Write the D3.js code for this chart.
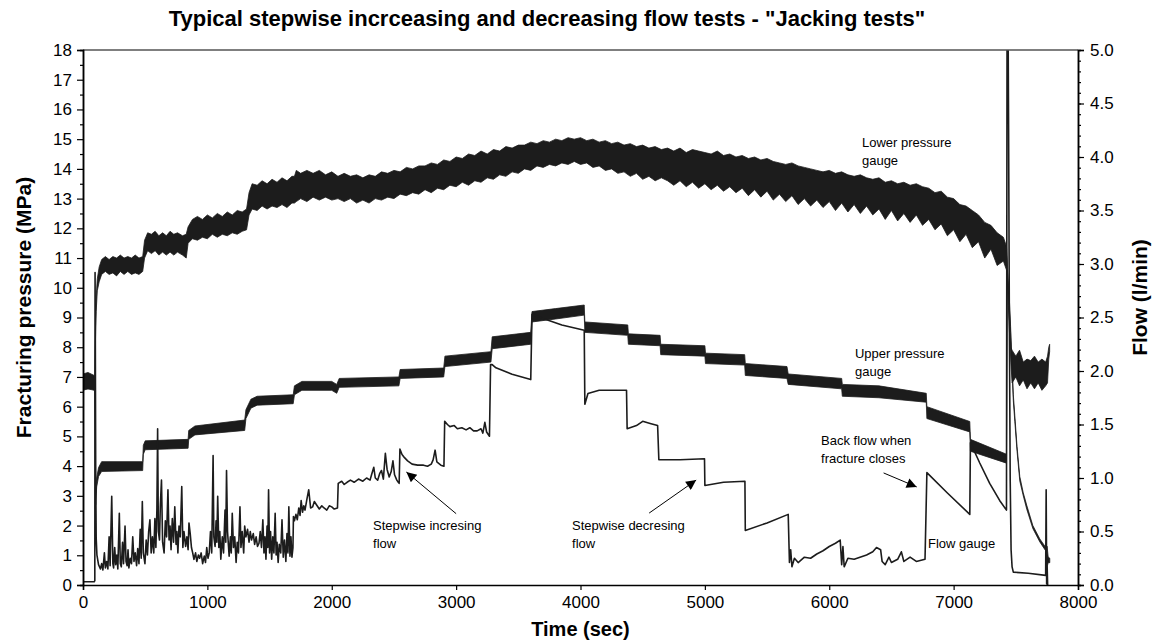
<!DOCTYPE html>
<html>
<head>
<meta charset="utf-8">
<script src="https://cdn.jsdelivr.net/npm/d3@7"></script>
<style>
  body { margin: 0; background: #fff; }
  svg { display: block; }
  text { font-family: Arial, "Liberation Sans", sans-serif; fill: #000; }
</style>
</head>
<body>
<svg id="chart" width="1154" height="641"></svg>
<script>
// ---- data -------------------------------------------------------------
// Lower pressure gauge, MPa: [time s, band min, band max]
const lowerGauge = [
  [0,6.55,7.1],[40,6.6,7.15],[90,6.55,7.05],[96,6.7,7.0],[100,8.2,8.6],[106,9.2,9.7],
  [115,9.9,10.3],[130,10.2,10.7],[150,10.45,10.95],[180,10.55,11.05],[210,10.45,10.95],
  [240,10.5,11.05],[270,10.4,11.0],[300,10.55,11.1],[330,10.45,11.0],[360,10.55,11.05],
  [390,10.45,11.0],[420,10.5,11.1],[450,10.45,11.0],[480,10.55,11.05],[495,11.0,11.6],
  [520,11.25,11.85],[550,11.15,11.8],[580,11.25,11.9],[610,11.1,11.75],[640,11.2,11.85],
  [670,11.1,11.75],[700,11.2,11.9],[730,11.1,11.8],[760,11.2,11.85],[800,11.1,11.75],
  [830,11.0,11.8],[845,11.5,12.05],[880,11.65,12.3],[920,11.6,12.4],[960,11.7,12.3],
  [1000,11.65,12.45],[1040,11.8,12.35],[1080,11.7,12.5],[1120,11.8,12.4],[1160,11.75,12.55],
  [1200,11.85,12.45],[1240,11.8,12.6],[1280,11.9,12.55],[1315,11.95,12.65],[1335,12.45,13.2],
  [1360,12.65,13.5],[1400,12.6,13.45],[1440,12.75,13.6],[1480,12.65,13.5],[1520,12.75,13.65],
  [1560,12.7,13.55],[1600,12.8,13.7],[1640,12.7,13.6],[1680,12.85,13.75],[1700,12.85,13.75],
  [1715,12.9,13.95],[1750,13.0,13.85],[1800,12.9,13.95],[1850,13.05,13.85],[1900,12.95,13.95],
  [1950,13.05,13.8],[2000,12.95,13.9],[2050,13.0,13.75],[2100,12.9,13.85],[2150,13.0,13.75],
  [2200,12.85,13.8],[2250,12.95,13.7],[2300,12.85,13.8],[2350,13.0,13.75],[2400,12.95,13.9],
  [2450,13.05,13.85],[2500,13.0,13.95],[2550,13.15,13.9],[2600,13.1,14.05],[2650,13.2,14.0],
  [2700,13.15,14.1],[2750,13.3,14.1],[2800,13.2,14.2],[2850,13.35,14.15],[2900,13.3,14.3],
  [2950,13.45,14.25],[3000,13.4,14.4],[3050,13.55,14.35],[3100,13.45,14.5],[3150,13.6,14.45],
  [3200,13.55,14.6],[3250,13.7,14.5],[3300,13.65,14.65],[3350,13.8,14.6],[3400,13.75,14.75],
  [3450,13.9,14.7],[3500,13.85,14.8],[3550,14.0,14.8],[3600,13.95,14.9],[3650,14.1,14.85],
  [3700,14.05,14.95],[3750,14.15,14.9],[3800,14.1,15.0],[3850,14.2,14.95],[3900,14.15,15.05],
  [3950,14.25,15.0],[4000,14.15,15.05],[4050,14.2,14.95],[4100,14.05,15.0],[4150,14.1,14.9],
  [4200,13.95,14.95],[4250,14.0,14.85],[4300,13.85,14.9],[4350,13.9,14.8],[4400,13.75,14.85],
  [4450,13.85,14.75],[4500,13.65,14.8],[4550,13.75,14.7],[4600,13.6,14.75],[4650,13.7,14.65],
  [4700,13.6,14.7],[4750,13.45,14.6],[4800,13.6,14.7],[4850,13.4,14.55],[4900,13.55,14.65],
  [4950,13.35,14.6],[5000,13.5,14.55],[5050,13.3,14.5],[5100,13.45,14.6],[5150,13.25,14.45],
  [5200,13.4,14.5],[5250,13.2,14.4],[5300,13.35,14.45],[5350,13.1,14.35],[5400,13.3,14.4],
  [5450,13.05,14.3],[5500,13.25,14.35],[5550,12.95,14.25],[5600,13.15,14.2],[5650,12.9,14.15],
  [5700,13.1,14.2],[5750,12.8,14.1],[5800,13.0,14.05],[5850,12.75,14.0],[5900,12.95,13.95],
  [5950,12.7,13.9],[6000,12.9,13.95],[6050,12.6,13.85],[6100,12.85,13.9],[6150,12.55,13.8],
  [6200,12.8,13.75],[6250,12.5,13.8],[6300,12.75,13.7],[6350,12.45,13.65],[6400,12.65,13.7],
  [6450,12.3,13.55],[6500,12.6,13.6],[6550,12.25,13.5],[6600,12.5,13.55],[6650,12.2,13.45],
  [6700,12.45,13.5],[6750,12.1,13.4],[6800,12.3,13.35],[6850,11.95,13.2],[6900,12.15,13.25],
  [6950,11.75,13.05],[7000,11.95,13.0],[7050,11.55,12.8],[7100,11.8,12.75],[7150,11.35,12.6],
  [7200,11.55,12.45],[7250,11.0,12.2],[7300,11.3,12.1],[7350,10.75,11.85],[7400,10.9,11.7],
  [7425,10.6,11.4],[7432,10.2,10.9],[7440,9.4,9.9],[7450,8.4,8.8],[7460,7.5,8.0],
  [7470,6.8,7.9],[7500,7.0,7.7],[7530,6.7,7.9],[7560,6.9,7.5],[7590,6.6,7.6],[7620,6.8,7.55],
  [7650,6.6,7.7],[7680,6.8,7.5],[7710,6.55,7.6],[7740,6.7,7.5],[7755,6.8,7.7],[7765,7.6,8.0],
  [7772,7.85,8.1]
];

// Upper pressure gauge, MPa: [time s, band min, band max]
const upperGauge = [
  [0,6.6,7.0],[95,6.6,7.0],[98,5.0,5.4],[102,2.7,3.1],[110,3.3,3.6],[125,3.65,3.95],
  [150,3.82,4.15],[480,3.85,4.15],[485,4.4,4.7],[500,4.55,4.85],[845,4.6,4.9],[850,4.9,5.2],
  [900,5.05,5.35],[1300,5.2,5.55],[1310,5.6,5.9],[1350,5.95,6.25],[1400,6.05,6.35],
  [1690,6.1,6.4],[1700,6.4,6.7],[1760,6.55,6.85],[2000,6.55,6.85],[2040,6.45,6.75],
  [2060,6.65,6.95],[2540,6.7,7.0],[2550,6.95,7.25],[2900,7.0,7.3],[2910,7.35,7.7],
  [3280,7.5,7.85],[3290,7.95,8.35],[3600,8.1,8.5],[3610,8.85,9.2],[3800,8.95,9.3],
  [4030,9.08,9.42],[4035,8.5,8.85],[4380,8.4,8.75],[4385,8.1,8.45],[4640,8.05,8.4],
  [4645,7.75,8.1],[5000,7.7,8.05],[5005,7.45,7.8],[5320,7.4,7.75],[5325,7.05,7.45],
  [5660,6.95,7.35],[5670,6.75,7.1],[6100,6.6,6.95],[6105,6.35,6.75],[6400,6.3,6.7],
  [6780,6.15,6.45],[6785,5.6,6.0],[7130,5.15,5.5],[7135,4.5,4.9],[7425,4.1,4.4],
  [7432,10.3,10.6],[7445,9.6,9.9],[7458,8.5,8.7],[7468,7.4,7.6],[7480,6.2,6.4],
  [7492,5.5,5.7],[7510,4.5,4.65],[7532,3.5,3.65],[7560,3.0,3.1],[7588,2.55,2.68],
  [7637,1.9,2.0],[7693,1.45,1.55],[7745,1.12,1.24],[7752,0.6,1.3],[7760,0.75,0.95],
  [7773,0.75,0.9]
];

// Flow gauge, l/min: [time s, flow]
const flowGauge = [
  [0,0.03],[90,0.03],[95,0.04],[97,2.92],[99,2.36],[102,1.11],[106,0.44],[112,0.28],
  [125,0.19],[140,0.15],[150,0.2],[160,0.14],[172,0.3],[180,0.16],[190,0.22],[200,0.15],
  [210,0.45],[218,0.18],[231,0.83],[240,0.2],[246,0.16],[255,0.35],[263,0.19],[272,0.28],
  [280,0.15],[292,0.67],[300,0.2],[308,0.17],[318,0.4],[326,0.2],[338,0.55],[346,0.22],
  [355,0.18],[362,0.33],[369,0.16],[380,0.25],[390,0.2],[400,0.45],[410,0.22],[420,0.3],
  [431,0.18],[440,0.34],[450,0.2],[460,0.52],[468,0.25],[477,0.78],[485,0.3],[498,0.2],
  [508,0.42],[518,0.28],[528,0.5],[538,0.61],[548,0.3],[558,0.45],[569,0.3],[578,0.62],
  [586,0.35],[594,0.7],[600,1.46],[606,0.5],[615,0.42],[622,0.75],[631,0.98],[640,0.4],
  [652,0.3],[662,0.6],[672,0.45],[683,0.89],[692,0.42],[700,0.55],[708,0.33],[718,0.62],
  [728,0.4],[738,0.73],[748,0.38],[755,0.5],[763,0.3],[772,0.55],[782,0.45],[794,0.92],
  [803,0.35],[812,0.5],[825,0.36],[835,0.45],[845,0.33],[852,0.58],[862,0.48],[872,0.35],
  [882,0.3],[892,0.24],[905,0.3],[915,0.22],[928,0.28],[938,0.25],[950,0.3],[962,0.2],
  [975,0.27],[985,0.21],[995,0.35],[1005,0.25],[1015,0.3],[1025,0.5],[1035,0.3],[1046,1.21],
  [1052,0.45],[1062,0.36],[1070,0.6],[1076,0.4],[1083,0.83],[1092,0.35],[1100,0.5],
  [1108,0.24],[1120,0.45],[1130,0.3],[1142,0.7],[1148,0.4],[1154,1.07],[1162,0.5],
  [1175,0.27],[1185,0.45],[1192,0.3],[1200,0.67],[1210,0.35],[1220,0.45],[1231,0.21],
  [1240,0.4],[1250,0.3],[1262,0.73],[1270,0.35],[1280,0.5],[1292,0.3],[1300,0.55],
  [1310,0.45],[1323,0.52],[1335,0.4],[1345,0.5],[1355,0.42],[1369,0.48],[1380,0.38],
  [1392,0.45],[1403,0.36],[1415,0.39],[1425,0.5],[1435,0.35],[1446,0.61],[1455,0.3],
  [1463,0.45],[1471,0.24],[1480,0.55],[1486,0.35],[1492,0.89],[1500,0.3],[1508,0.5],
  [1517,0.24],[1526,0.45],[1535,0.3],[1545,0.67],[1553,0.28],[1560,0.4],[1569,0.21],
  [1578,0.38],[1590,0.3],[1600,0.61],[1610,0.26],[1620,0.42],[1631,0.22],[1640,0.48],
  [1648,0.3],[1655,0.73],[1664,0.27],[1672,0.45],[1680,0.26],[1688,0.35],[1692,0.64],
  [1700,0.6],[1712,0.66],[1723,0.61],[1735,0.72],[1745,0.65],[1754,0.79],[1765,0.68],
  [1775,0.74],[1785,0.7],[1800,0.8],[1815,0.89],[1830,0.72],[1846,0.73],[1860,0.78],
  [1877,0.75],[1900,0.71],[1920,0.74],[1938,0.72],[1960,0.7],[1980,0.74],[2000,0.73],
  [2020,0.71],[2046,0.72],[2052,0.95],[2080,0.97],[2100,0.94],[2123,0.96],[2150,0.98],
  [2180,0.96],[2215,0.99],[2250,0.97],[2280,1.0],[2308,0.98],[2320,1.03],[2338,1.1],
  [2350,1.0],[2369,0.98],[2385,1.04],[2400,1.07],[2415,0.99],[2431,1.23],[2445,1.08],
  [2462,1.01],[2478,1.06],[2492,1.16],[2505,1.03],[2523,0.98],[2535,0.96],[2542,0.95],
  [2548,1.27],[2565,1.22],[2585,1.19],[2610,1.16],[2646,1.13],[2690,1.12],[2738,1.12],
  [2770,1.11],[2800,1.13],[2815,1.17],[2831,1.26],[2845,1.15],[2877,1.12],[2902,1.11],
  [2908,1.53],[2930,1.5],[2950,1.48],[2985,1.49],[3010,1.46],[3046,1.47],[3080,1.45],
  [3110,1.47],[3140,1.44],[3169,1.44],[3200,1.46],[3215,1.42],[3231,1.52],[3245,1.43],
  [3268,1.39],[3277,2.06],[3290,2.06],[3320,2.03],[3450,1.97],[3600,1.92],[3610,2.53],
  [3700,2.49],[3850,2.43],[4030,2.38],[4035,1.69],[4060,1.79],[4150,1.82],[4370,1.82],
  [4375,1.46],[4450,1.49],[4500,1.53],[4560,1.51],[4620,1.49],[4630,1.17],[4800,1.17],
  [4997,1.18],[5000,0.93],[5150,0.96],[5322,0.97],[5325,0.51],[5500,0.58],[5670,0.66],
  [5680,0.21],[5690,0.33],[5700,0.17],[5720,0.25],[5750,0.21],[5800,0.26],[5850,0.25],
  [5900,0.29],[5950,0.32],[6000,0.36],[6050,0.39],[6088,0.42],[6100,0.19],[6110,0.36],
  [6120,0.17],[6150,0.25],[6200,0.24],[6300,0.28],[6350,0.31],[6380,0.35],[6413,0.33],
  [6425,0.22],[6450,0.19],[6480,0.26],[6500,0.21],[6550,0.24],[6580,0.31],[6600,0.22],
  [6650,0.26],[6700,0.22],[6770,0.24],[6785,1.05],[6950,0.86],[7130,0.66],[7135,1.33],
  [7210,1.14],[7290,0.95],[7370,0.79],[7425,0.7],[7430,5.6],[7438,5.2],[7442,4.25],
  [7448,2.5],[7455,0.97],[7462,0.33],[7470,0.17],[7480,0.12],[7600,0.11],[7740,0.09],
  [7744,0.89],[7748,0.01],[7752,0.17],[7756,0]
];

const timeTicks = [0,1000,2000,3000,4000,5000,6000,7000,8000];
const pressureTicks = d3.range(0, 19, 1);
const flowTicks = [0,0.5,1.0,1.5,2.0,2.5,3.0,3.5,4.0,4.5,5.0];

const chartTitle = 'Typical stepwise incrceasing and decreasing flow tests - "Jacking tests"';

// ---- layout -------------------------------------------------------------
const plot = { left: 83, right: 1078, top: 50, bottom: 585 };

const svg = d3.select('#chart');

const x = d3.scaleLinear().domain([0, 8000]).range([plot.left, plot.right]);
const yP = d3.scaleLinear().domain([0, 18]).range([plot.bottom, plot.top]);
const yF = d3.scaleLinear().domain([0, 5]).range([plot.bottom, plot.top]);

svg.append('clipPath').attr('id', 'plotClip')
  .append('rect')
  .attr('x', plot.left).attr('y', plot.top)
  .attr('width', plot.right - plot.left).attr('height', plot.bottom - plot.top);

// ---- series -------------------------------------------------------------
const ink = '#1c1c1c';
const series = svg.append('g').attr('clip-path', 'url(#plotClip)');

const band = d3.area()
  .x(d => x(d[0]))
  .y0(d => yP(d[1]))
  .y1(d => yP(d[2]));

series.append('path').datum(lowerGauge)
  .attr('d', band).attr('fill', ink).attr('stroke', ink).attr('stroke-width', 0.8);

series.append('path').datum(upperGauge)
  .attr('d', band).attr('fill', ink).attr('stroke', ink).attr('stroke-width', 0.8);

const flowLine = d3.line().x(d => x(d[0])).y(d => yF(d[1]));
series.append('path').datum(flowGauge)
  .attr('d', flowLine).attr('fill', 'none').attr('stroke', ink)
  .attr('stroke-width', 1.6).attr('stroke-linejoin', 'round');

// ---- frame and axes -----------------------------------------------------
svg.append('line')
  .attr('x1', plot.left).attr('x2', plot.right)
  .attr('y1', plot.top).attr('y2', plot.top)
  .attr('stroke', '#555').attr('stroke-width', 1.5);

const tickFont = 17;

function styleAxis(g) {
  g.selectAll('path.domain').attr('stroke', '#000').attr('stroke-width', 1.5);
  g.selectAll('.tick line').attr('stroke', '#000').attr('stroke-width', 1.2);
  g.selectAll('.tick text').attr('font-size', tickFont)
    .attr('font-family', 'Arial, "Liberation Sans", sans-serif').attr('fill', '#000');
}

// left axis: minor ticks at half units, major at units
svg.append('g').attr('transform', `translate(${plot.left},0)`)
  .call(d3.axisLeft(yP).tickValues(d3.range(0.5, 18, 1)).tickSize(3).tickFormat(''))
  .call(styleAxis);
svg.append('g').attr('transform', `translate(${plot.left},0)`)
  .call(d3.axisLeft(yP).tickValues(pressureTicks).tickSize(6).tickPadding(5).tickFormat(d3.format('d')))
  .call(styleAxis);

// right axis: minor ticks every 0.1
svg.append('g').attr('transform', `translate(${plot.right},0)`)
  .call(d3.axisRight(yF).tickValues(d3.range(0, 50).map(i => i / 10)).tickSize(3).tickFormat(''))
  .call(styleAxis);
svg.append('g').attr('transform', `translate(${plot.right},0)`)
  .call(d3.axisRight(yF).tickValues(flowTicks).tickSize(6).tickPadding(6).tickFormat(d3.format('.1f')))
  .call(styleAxis);

// bottom axis
svg.append('g').attr('transform', `translate(0,${plot.bottom})`)
  .call(d3.axisBottom(x).tickValues(timeTicks).tickSize(5).tickPadding(6).tickFormat(d3.format('d')))
  .call(styleAxis);

// ---- titles ---------------------------------------------------------------
svg.append('text')
  .attr('x', 547).attr('y', 26)
  .attr('text-anchor', 'middle')
  .attr('font-size', 22).attr('font-weight', 'bold')
  .text(chartTitle);

svg.append('text')
  .attr('transform', `translate(31,${(plot.top + plot.bottom) / 2 - 10}) rotate(-90)`)
  .attr('text-anchor', 'middle')
  .attr('font-size', 21).attr('font-weight', 'bold')
  .text('Fracturing pressure (MPa)');

svg.append('text')
  .attr('transform', `translate(1147,${(plot.top + plot.bottom) / 2 - 20}) rotate(-90)`)
  .attr('text-anchor', 'middle')
  .attr('font-size', 21).attr('font-weight', 'bold')
  .text('Flow (l/min)');

svg.append('text')
  .attr('x', (plot.left + plot.right) / 2).attr('y', 636)
  .attr('text-anchor', 'middle')
  .attr('font-size', 20).attr('font-weight', 'bold')
  .text('Time (sec)');

// ---- annotations ------------------------------------------------------------
const notes = [
  { t: 6263, p: 14.74, lines: ['Lower pressure', 'gauge'] },
  { t: 6207, p: 7.64, lines: ['Upper pressure', 'gauge'] },
  { t: 2332, p: 1.85, lines: ['Stepwise incresing', 'flow'] },
  { t: 3932, p: 1.85, lines: ['Stepwise decresing', 'flow'] },
  { t: 5934, p: 4.71, lines: ['Back flow when', 'fracture closes'] },
  { t: 6794, p: 1.245, lines: ['Flow gauge'] }
];
notes.forEach(n => {
  const txt = svg.append('text')
    .attr('x', x(n.t)).attr('y', yP(n.p))
    .attr('font-size', 13);
  n.lines.forEach((l, i) => {
    txt.append('tspan').attr('x', x(n.t)).attr('dy', i === 0 ? 0 : 18).text(l);
  });
});

svg.append('defs').append('marker')
  .attr('id', 'head').attr('viewBox', '0 0 10 10')
  .attr('refX', 10).attr('refY', 5)
  .attr('markerWidth', 14).attr('markerHeight', 10)
  .attr('markerUnits', 'userSpaceOnUse')
  .attr('orient', 'auto')
  .append('path').attr('d', 'M0,0 L10,5 L0,10 Z').attr('fill', '#000');

const arrows = [
  { from: [3000, 2.4], to: [2600, 3.8] },
  { from: [4552, 2.42], to: [4930, 3.53] },
  { from: [6437, 3.77], to: [6703, 3.3] }
];
arrows.forEach(a => {
  svg.append('line')
    .attr('x1', x(a.from[0])).attr('y1', yP(a.from[1]))
    .attr('x2', x(a.to[0])).attr('y2', yP(a.to[1]))
    .attr('stroke', '#000').attr('stroke-width', 1)
    .attr('marker-end', 'url(#head)');
});
</script>
</body>
</html>
